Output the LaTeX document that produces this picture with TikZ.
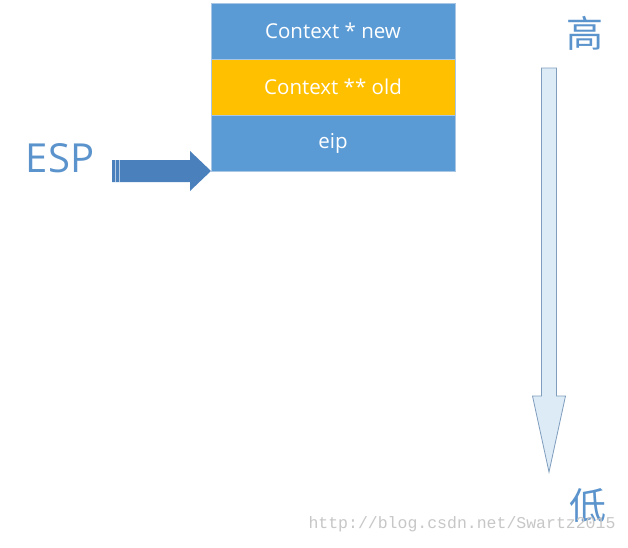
\documentclass[tikz,border=0pt]{standalone}
\usepackage{fontspec}
\setmainfont{Open Sans}
\newfontfamily\cjk{Noto Sans CJK SC}
\newfontfamily\wmfont{Liberation Mono}
\usetikzlibrary{positioning}
\definecolor{cellblue}{HTML}{5B9BD5}
\definecolor{cellorange}{HTML}{FFC000}
\definecolor{celledge}{HTML}{A9C6E4}
\definecolor{espblue}{HTML}{4A80BC}
\definecolor{textblue}{HTML}{5B93CC}
\definecolor{downfill}{HTML}{DDEBF7}
\definecolor{downedge}{HTML}{7F9DBD}
\tikzset{
  cell/.style={draw=celledge, line width=0.6pt, minimum width=244pt, minimum height=56pt,
    inner sep=0pt, outer sep=0pt, text=white, font=\fontsize{20.5}{22}\selectfont},
  level/.style={text=textblue, font=\cjk\fontsize{37}{40}\selectfont, inner sep=0pt}
}
\begin{document}
\begin{tikzpicture}[x=1pt, y=-1pt]
    \useasboundingbox[fill=white] (0,0) rectangle (628,547);
    \node[cell, fill=cellblue] (new) at (333,31) {Context * new};
    \node[cell, fill=cellorange, below=0pt of new] (old) {Context ** old};
    \node[cell, fill=cellblue, below=0pt of old] (eip) {eip};
    \node[text=textblue, font=\fontsize{40}{44}\selectfont, inner sep=0pt] (esp) at (60,158) {ESP};
    % ESP arrow, tip on the bottom left corner of the stack
    \fill[espblue, shift={(eip.south west)}] (-99,-11) -- (-21,-11) -- (-21,-20) -- (0,0)
        -- (-21,20) -- (-21,11) -- (-99,11) -- cycle;
    \draw[white, opacity=0.6, line width=0.7pt, shift={(eip.south west)}] (-96,-11) -- (-96,11) (-92,-11) -- (-92,11);
    % high to low
    \node[level] (high) at (585,33) {高};
    \node[level] (low) at (588,506) {低};
    \coordinate (top) at (549,68);
    \filldraw[fill=downfill, draw=downedge, line width=0.8pt, shift={(top)}] (-7.5,0) -- (7.5,0) -- (7.5,328)
        -- (16.5,328) -- (0,404) -- (-16.5,328) -- (-7.5,328) -- cycle;
    \node[text=black!22, font=\wmfont\fontsize{16.5}{18}\selectfont, inner sep=0pt] (mark) at (462,524) {http://blog.csdn.net/Swartz2015};
\end{tikzpicture}
\end{document}
